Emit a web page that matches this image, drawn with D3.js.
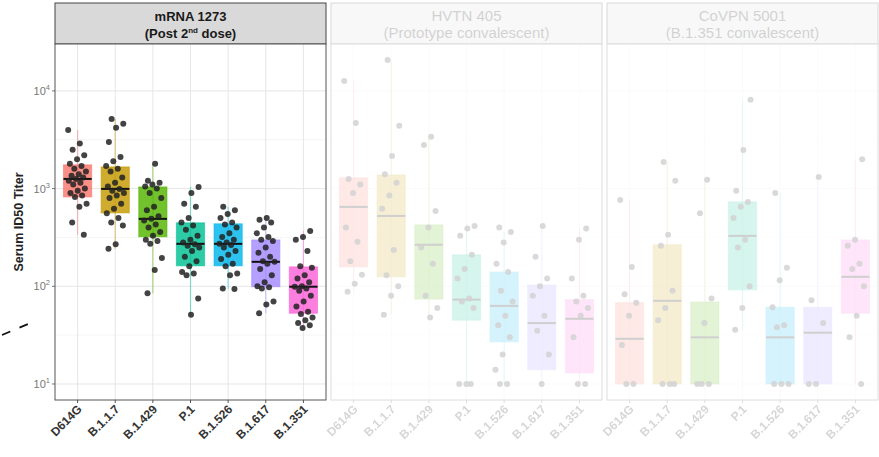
<!DOCTYPE html>
<html>
<head>
<meta charset="utf-8">
<script src="https://cdn.jsdelivr.net/npm/d3@7"></script>
<style>
  body { margin: 0; background: #fff; }
  text { font-family: "Liberation Sans", Arial, sans-serif; }
</style>
</head>
<body>
<div id="chart"></div>
<script>
let w = 879;
let h = 457;

// data
let variants = ["D614G", "B.1.1.7", "B.1.429", "P.1", "B.1.526", "B.1.617", "B.1.351"];
let colors = ["#F8766D", "#C49A00", "#53B400", "#00C094", "#00B6EB", "#A58AFF", "#FB61D7"];
let panelTitles = [["mRNA 1273", "(Post 2nd dose)"], ["HVTN 405", "(Prototype convalescent)"], ["CoVPN 5001", "(B.1.351 convalescent)"]];
let yTicks = [1, 2, 3, 4];

// box stats per panel: [whiskerLow, q1, median, q3, whiskerHigh]
let boxesMrna = [
  [336, 822, 1256, 1750, 3980],
  [242, 564, 993, 1667, 5165],
  [85, 321, 490, 1040, 1791],
  [51, 162, 272, 446, 1040],
  [94, 162, 272, 436, 650],
  [53, 99, 178, 298, 501],
  [37.5, 53, 99, 158, 369]
];
let boxesHvtn = [
  [88, 158, 650, 1290, 12660],
  [51, 125, 525, 1380, 20700],
  [48, 74, 266, 425, 3390],
  [10, 45, 73, 210, 415],
  [10, 27, 63, 140, 360],
  [10, 14, 42, 103, 415],
  [10, 13, 46.5, 73, 390]
];
let boxesCovpn = [
  [10, 10, 29, 68, 766],
  [10, 10, 71, 266, 1870],
  [10, 10, 30, 69, 1230],
  [36, 92, 328, 731, 8100],
  [10, 10, 30, 61, 903],
  [10, 10, 33.5, 61, 1317],
  [10, 53, 125, 298, 2000]
];

// individual titers
let pointsMrna = [
  [3980, 2900, 2500, 2200, 2000, 1800, 1700, 1600, 1500, 1400, 1350, 1300, 1250, 1200, 1150, 1100, 1000, 950, 900, 850, 820, 700, 650, 450, 336],
  [5165, 4600, 4200, 3000, 2100, 1900, 1700, 1600, 1500, 1300, 1150, 1050, 993, 950, 900, 850, 800, 700, 620, 560, 500, 450, 420, 270, 242],
  [1791, 1200, 1150, 1100, 1050, 1000, 900, 800, 650, 600, 520, 490, 470, 430, 400, 360, 330, 300, 290, 272, 195, 147, 85],
  [1040, 900, 700, 650, 500, 450, 420, 380, 330, 300, 280, 270, 260, 250, 230, 200, 180, 160, 140, 135, 130, 75, 51],
  [650, 600, 550, 500, 450, 430, 400, 350, 320, 300, 280, 272, 265, 250, 230, 210, 190, 170, 160, 135, 130, 95, 94],
  [501, 480, 450, 400, 350, 320, 300, 290, 250, 220, 200, 180, 178, 170, 150, 130, 110, 100, 98, 95, 70, 65, 53],
  [369, 320, 300, 230, 160, 155, 130, 120, 110, 100, 99, 95, 90, 80, 70, 62, 55, 52, 48, 45, 42, 40, 37.5]
];
let pointsHvtn = [
  [12660, 4700, 1250, 1100, 900, 400, 285, 180, 131, 106, 88],
  [20700, 4400, 2160, 1400, 1150, 850, 620, 235, 130, 100, 80, 51],
  [3390, 2800, 590, 400, 250, 170, 80, 60, 48],
  [415, 390, 330, 210, 150, 120, 75, 70, 60, 10, 10, 10],
  [400, 360, 280, 170, 140, 90, 70, 50, 40, 30, 20, 14, 10, 10],
  [415, 200, 120, 100, 80, 50, 35, 20, 10],
  [390, 300, 120, 80, 70, 60, 50, 30, 10, 10]
];
let pointsCovpn = [
  [766, 158, 83, 68, 50, 25, 10, 10],
  [1870, 1200, 336, 260, 90, 60, 45, 10, 10, 10],
  [1230, 560, 75, 42, 10, 10, 10],
  [8100, 2490, 950, 731, 650, 500, 300, 250, 100, 60, 36],
  [903, 155, 115, 61, 40, 38, 10, 10, 10],
  [1317, 72, 42, 10, 10],
  [2000, 300, 260, 170, 150, 100, 50, 30, 10]
];

let panels = [
  {title: panelTitles[0], boxes: boxesMrna, points: pointsMrna, faded: false},
  {title: panelTitles[1], boxes: boxesHvtn, points: pointsHvtn, faded: true},
  {title: panelTitles[2], boxes: boxesCovpn, points: pointsCovpn, faded: true}
];

let panelLeft = 55;
let panelW = 271;
let panelGap = 5;
let stripTop = 3;
let plotTop = 44;
let plotBottom = 400;

let svg = d3.select("#chart").append("svg")
  .attr("width", w)
  .attr("height", h);

let yScale = d3.scaleLog()
  .domain([Math.pow(10, 0.836), Math.pow(10, 4.48)])
  .range([plotBottom, plotTop]);

// y axis title
svg.append("text")
  .attr("transform", "translate(23," + ((plotTop + plotBottom) / 2) + ") rotate(-90)")
  .attr("text-anchor", "middle")
  .attr("font-size", 12.5)
  .attr("font-weight", "bold")
  .attr("fill", "#222")
  .text("Serum ID50 Titer");

// y tick labels
let yLab = svg.selectAll(".ylab").data(yTicks).enter()
  .append("text")
  .attr("class", "ylab")
  .attr("x", 50)
  .attr("y", d => yScale(Math.pow(10, d)) + 4)
  .attr("text-anchor", "end")
  .attr("font-size", 11)
  .attr("fill", "#777");
yLab.append("tspan").text("10");
yLab.append("tspan").attr("font-size", 7.5).attr("dy", -5).text(d => d);

svg.selectAll(".ytick").data(yTicks).enter()
  .append("line")
  .attr("x1", 52).attr("x2", panelLeft)
  .attr("y1", d => yScale(Math.pow(10, d)))
  .attr("y2", d => yScale(Math.pow(10, d)))
  .attr("stroke", "#777");

// little dashed fragment on the left edge
svg.append("line")
  .attr("x1", 2).attr("y1", 335).attr("x2", 28).attr("y2", 324)
  .attr("stroke", "#111").attr("stroke-width", 1.8)
  .attr("stroke-dasharray", "9,10");

panels.forEach(function(p, pi) {
  let x0 = panelLeft + pi * (panelW + panelGap);
  let g = svg.append("g").attr("opacity", p.faded ? 0.2 : 1);

  let xScale = d3.scalePoint()
    .domain(variants)
    .range([x0, x0 + panelW])
    .padding(0.6);
  let step = xScale.step();
  let boxW = step * 0.75;

  // strip
  g.append("rect")
    .attr("x", x0).attr("y", stripTop)
    .attr("width", panelW).attr("height", plotTop - stripTop)
    .attr("fill", "#d9d9d9")
    .attr("stroke", "#444").attr("stroke-width", 1);
  let fs = p.faded ? 15 : 13;
  let fw = p.faded ? "normal" : "bold";
  g.append("text")
    .attr("x", x0 + panelW / 2).attr("y", 21)
    .attr("text-anchor", "middle")
    .attr("font-size", fs).attr("font-weight", fw).attr("fill", "#1a1a1a")
    .text(p.title[0]);
  let t2 = g.append("text")
    .attr("x", x0 + panelW / 2).attr("y", 38)
    .attr("text-anchor", "middle")
    .attr("font-size", fs).attr("font-weight", fw).attr("fill", "#1a1a1a");
  if (pi === 0) {
    t2.append("tspan").text("(Post 2");
    t2.append("tspan").attr("font-size", 8).attr("dy", -5).text("nd");
    t2.append("tspan").attr("dy", 5).text(" dose)");
  } else {
    t2.text(p.title[1]);
  }

  // panel background + grid
  g.append("rect")
    .attr("x", x0).attr("y", plotTop)
    .attr("width", panelW).attr("height", plotBottom - plotTop)
    .attr("fill", "#fff");

  let minor = [0.5, 1.5, 2.5, 3.5, 4.5].filter(d => yScale(Math.pow(10, d)) > plotTop && yScale(Math.pow(10, d)) < plotBottom);
  g.selectAll(".ymin").data(minor).enter()
    .append("line")
    .attr("x1", x0).attr("x2", x0 + panelW)
    .attr("y1", d => yScale(Math.pow(10, d)))
    .attr("y2", d => yScale(Math.pow(10, d)))
    .attr("stroke", "#f2f2f2").attr("stroke-width", 0.8);
  g.selectAll(".ymaj").data(yTicks).enter()
    .append("line")
    .attr("x1", x0).attr("x2", x0 + panelW)
    .attr("y1", d => yScale(Math.pow(10, d)))
    .attr("y2", d => yScale(Math.pow(10, d)))
    .attr("stroke", "#e6e6e6").attr("stroke-width", 1);
  g.selectAll(".xmaj").data(variants).enter()
    .append("line")
    .attr("x1", d => xScale(d)).attr("x2", d => xScale(d))
    .attr("y1", plotTop).attr("y2", plotBottom)
    .attr("stroke", "#e6e6e6").attr("stroke-width", 1);

  // whiskers
  g.selectAll(".whisk").data(p.boxes).enter()
    .append("line")
    .attr("x1", (d, i) => xScale(variants[i]))
    .attr("x2", (d, i) => xScale(variants[i]))
    .attr("y1", d => yScale(d[0]))
    .attr("y2", d => yScale(d[4]))
    .attr("stroke", (d, i) => colors[i])
    .attr("stroke-opacity", 0.45)
    .attr("stroke-width", 1.2);

  // boxes
  g.selectAll(".box").data(p.boxes).enter()
    .append("rect")
    .attr("x", (d, i) => xScale(variants[i]) - boxW / 2)
    .attr("width", boxW)
    .attr("y", d => yScale(d[3]))
    .attr("height", d => Math.max(yScale(d[1]) - yScale(d[3]), 1))
    .attr("fill", (d, i) => colors[i])
    .attr("fill-opacity", 0.82)
    .attr("stroke", (d, i) => colors[i])
    .attr("stroke-opacity", 0.6);

  // medians
  g.selectAll(".med").data(p.boxes).enter()
    .append("line")
    .attr("x1", (d, i) => xScale(variants[i]) - boxW / 2)
    .attr("x2", (d, i) => xScale(variants[i]) + boxW / 2)
    .attr("y1", d => yScale(d[2]))
    .attr("y2", d => yScale(d[2]))
    .attr("stroke", "#111")
    .attr("stroke-width", 2);

  // jittered points
  p.points.forEach(function(vals, vi) {
    g.selectAll(".pt" + vi).data(vals).enter()
      .append("circle")
      .attr("cx", (d, j) => xScale(variants[vi]) + (((j * 0.618 + vi * 0.31) % 1) - 0.5) * step * 0.5)
      .attr("cy", d => yScale(d))
      .attr("r", 3)
      .attr("fill", "#222")
      .attr("fill-opacity", 0.85);
  });

  // border
  g.append("rect")
    .attr("x", x0).attr("y", plotTop)
    .attr("width", panelW).attr("height", plotBottom - plotTop)
    .attr("fill", "none")
    .attr("stroke", "#555").attr("stroke-width", 1);

  // x ticks + labels
  g.selectAll(".xtick").data(variants).enter()
    .append("line")
    .attr("x1", d => xScale(d)).attr("x2", d => xScale(d))
    .attr("y1", plotBottom).attr("y2", plotBottom + 3)
    .attr("stroke", "#555");
  g.selectAll(".xlab").data(variants).enter()
    .append("text")
    .attr("transform", d => "translate(" + (xScale(d) + 5) + "," + (plotBottom + 10) + ") rotate(-45)")
    .attr("text-anchor", "end")
    .attr("font-size", 12)
    .attr("font-weight", "bold")
    .attr("fill", "#333")
    .text(d => d);
});
</script>
</body>
</html>
